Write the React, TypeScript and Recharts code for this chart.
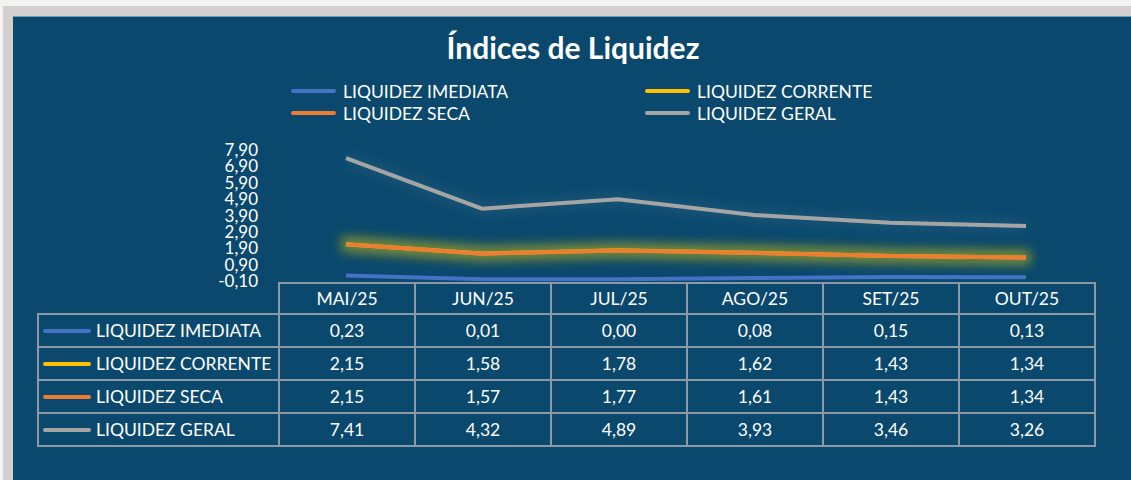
import { LineChart, Line, XAxis, YAxis } from "recharts";

const months = ["MAI/25", "JUN/25", "JUL/25", "AGO/25", "SET/25", "OUT/25"];
const imediata = [0.23, 0.01, 0.0, 0.08, 0.15, 0.13];
const corrente = [2.15, 1.58, 1.78, 1.62, 1.43, 1.34];
const seca = [2.15, 1.57, 1.77, 1.61, 1.43, 1.34];
const geral = [7.41, 4.32, 4.89, 3.93, 3.46, 3.26];
const yTicks = [-0.1, 0.9, 1.9, 2.9, 3.9, 4.9, 5.9, 6.9, 7.9];

const series = [
  { key: "imediata", name: "LIQUIDEZ IMEDIATA", color: "#4472c4", values: imediata },
  { key: "corrente", name: "LIQUIDEZ CORRENTE", color: "#ffc000", values: corrente },
  { key: "seca", name: "LIQUIDEZ SECA", color: "#ed7d31", values: seca },
  { key: "geral", name: "LIQUIDEZ GERAL", color: "#a5a5a5", values: geral },
];

const BG = "#0a486d";
const GRID = "#8e9aa3";
const FONT = "Lato, 'Open Sans', sans-serif";

const fmt = (v: number) => v.toFixed(2).replace(".", ",");

const chartData = months.map((m, i) => ({
  month: m,
  imediata: imediata[i],
  corrente: corrente[i],
  seca: seca[i],
  geral: geral[i],
}));

// legend in two columns, same as the source sheet
function ChartLegend() {
  return (
    <div
      style={{
        position: "absolute",
        left: 291,
        top: 81,
        display: "grid",
        gridTemplateColumns: "354px 260px",
        rowGap: 2,
        fontFamily: FONT,
        fontSize: 17.5,
        color: "#fff",
      }}
    >
      {series.map((s) => (
        <div key={s.key} style={{ display: "flex", alignItems: "center", height: 20 }}>
          <span
            style={{
              display: "inline-block",
              width: 45,
              height: 4,
              borderRadius: 2,
              background: s.color,
              marginRight: 7,
            }}
          />
          <span>{s.name}</span>
        </div>
      ))}
    </div>
  );
}

function DataTable() {
  const cell: React.CSSProperties = {
    border: `2px solid ${GRID}`,
    textAlign: "center",
    padding: 0,
  };
  return (
    <table
      style={{
        position: "absolute",
        left: 37,
        top: 282,
        width: 1057,
        tableLayout: "fixed",
        borderCollapse: "collapse",
        fontFamily: FONT,
        fontSize: 17.5,
        color: "#fff",
      }}
    >
      <colgroup>
        <col style={{ width: 241 }} />
        {months.map((m) => (
          <col key={m} style={{ width: 136 }} />
        ))}
      </colgroup>
      <tbody>
        <tr style={{ height: 31 }}>
          <td style={{ border: "none", borderRight: `2px solid ${GRID}` }} />
          {months.map((m) => (
            <td key={m} style={cell}>
              {m}
            </td>
          ))}
        </tr>
        {series.map((s) => (
          <tr key={s.key} style={{ height: 33 }}>
            <td style={{ border: `2px solid ${GRID}`, padding: 0, whiteSpace: "nowrap" }}>
              <div style={{ display: "flex", alignItems: "center" }}>
                <span
                  style={{
                    display: "inline-block",
                    width: 48,
                    height: 4,
                    borderRadius: 2,
                    background: s.color,
                    margin: "0 5px 0 4px",
                  }}
                />
                <span>{s.name}</span>
              </div>
            </td>
            {s.values.map((v, i) => (
              <td key={i} style={cell}>
                {fmt(v)}
              </td>
            ))}
          </tr>
        ))}
      </tbody>
    </table>
  );
}

export default function App() {
  return (
    <div
      style={{
        position: "fixed",
        left: 0,
        top: 0,
        width: 1131,
        height: 480,
        background: "#f3f3f3",
        overflow: "hidden",
      }}
    >
      <div
        style={{
          position: "absolute",
          left: 3,
          top: 6,
          width: 1140,
          height: 490,
          background: "#d3cfcf",
        }}
      />
      <div
        style={{
          position: "absolute",
          left: 13,
          top: 16,
          width: 1130,
          height: 480,
          background: BG,
          borderTop: "1px solid #6f9ab5",
        }}
      />
      <div
        style={{
          position: "absolute",
          left: 0,
          width: 1146,
          top: 29,
          textAlign: "center",
          fontFamily: FONT,
          fontWeight: 700,
          fontSize: 30,
          color: "#fff",
        }}
      >
        Índices de Liquidez
      </div>
      <ChartLegend />
      <div style={{ position: "absolute", left: 0, top: 0 }}>
        <LineChart
          width={1131}
          height={480}
          data={chartData}
          margin={{ top: 150, right: 37, bottom: 199, left: 218 }}
        >
          <defs>
            <filter id="glowY" x="-20%" y="-300%" width="140%" height="700%">
              <feMorphology in="SourceAlpha" operator="dilate" radius="4" result="d" />
              <feGaussianBlur in="d" stdDeviation="6" result="b" />
              <feFlood floodColor="#a8a820" floodOpacity="0.5" />
              <feComposite in2="b" operator="in" result="g" />
              <feMerge>
                <feMergeNode in="g" />
                <feMergeNode in="SourceGraphic" />
              </feMerge>
            </filter>
            <filter id="glowW" x="-20%" y="-100%" width="140%" height="300%">
              <feGaussianBlur in="SourceAlpha" stdDeviation="7" result="b" />
              <feFlood floodColor="#cfe0ee" floodOpacity="0.25" />
              <feComposite in2="b" operator="in" result="g" />
              <feMerge>
                <feMergeNode in="g" />
                <feMergeNode in="SourceGraphic" />
              </feMerge>
            </filter>
          </defs>
          <XAxis dataKey="month" hide padding={{ left: 68, right: 68 }} />
          <YAxis
            width={60}
            domain={[-0.1, 7.9]}
            ticks={yTicks}
            interval={0}
            axisLine={false}
            tickLine={false}
            tickMargin={14}
            tickFormatter={fmt}
            tick={{ fill: "#fff", fontSize: 17, fontFamily: FONT }}
          />
          <Line
            dataKey="imediata"
            name="LIQUIDEZ IMEDIATA"
            stroke="#4472c4"
            strokeWidth={4}
            dot={false}
            isAnimationActive={false}
          />
          <Line
            dataKey="corrente"
            name="LIQUIDEZ CORRENTE"
            stroke="#ffc000"
            strokeWidth={4}
            dot={false}
            filter="url(#glowY)"
            isAnimationActive={false}
          />
          <Line
            dataKey="seca"
            name="LIQUIDEZ SECA"
            stroke="#ed7d31"
            strokeWidth={4}
            dot={false}
            filter="url(#glowY)"
            isAnimationActive={false}
          />
          <Line
            dataKey="geral"
            name="LIQUIDEZ GERAL"
            stroke="#a5a5a5"
            strokeWidth={4}
            dot={false}
            filter="url(#glowW)"
            isAnimationActive={false}
          />
        </LineChart>
      </div>
      <DataTable />
    </div>
  );
}
